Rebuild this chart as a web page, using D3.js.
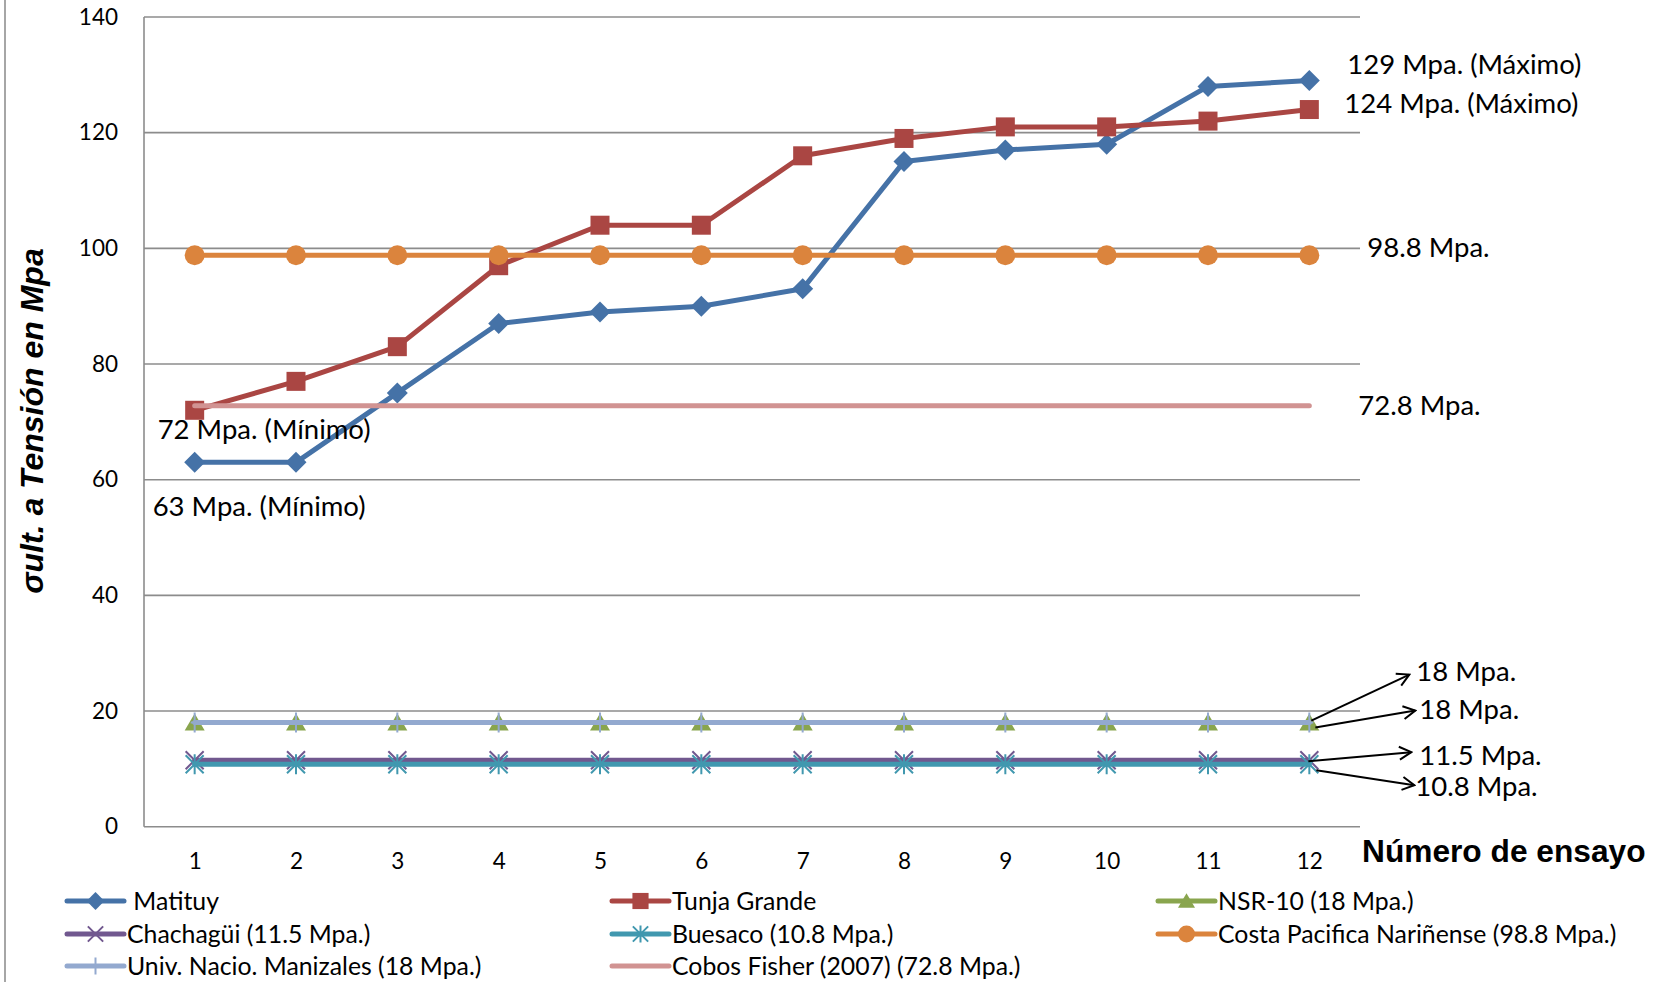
<!DOCTYPE html>
<html>
<head>
<meta charset="utf-8">
<script src="https://cdn.jsdelivr.net/npm/d3@7"></script>
<style>
  body { margin: 0; background: #fff; }
  text { font-family: Lato, "Open Sans", sans-serif; fill: #000; }
</style>
</head>
<body>
<svg id="chart"></svg>
<script>
// data
const ensayos = ["1", "2", "3", "4", "5", "6", "7", "8", "9", "10", "11", "12"];
const matituy = [63, 63, 75, 87, 89, 90, 93, 115, 117, 118, 128, 129];
const tunjaGrande = [72, 77, 83, 97, 104, 104, 116, 119, 121, 121, 122, 124];
const nsr10 = [18, 18, 18, 18, 18, 18, 18, 18, 18, 18, 18, 18];
const chachagui = [11.5, 11.5, 11.5, 11.5, 11.5, 11.5, 11.5, 11.5, 11.5, 11.5, 11.5, 11.5];
const buesaco = [10.8, 10.8, 10.8, 10.8, 10.8, 10.8, 10.8, 10.8, 10.8, 10.8, 10.8, 10.8];
const costaPacifica = [98.8, 98.8, 98.8, 98.8, 98.8, 98.8, 98.8, 98.8, 98.8, 98.8, 98.8, 98.8];
const univManizales = [18, 18, 18, 18, 18, 18, 18, 18, 18, 18, 18, 18];
const cobosFisher = [72.8, 72.8, 72.8, 72.8, 72.8, 72.8, 72.8, 72.8, 72.8, 72.8, 72.8, 72.8];
const yTicks = [0, 20, 40, 60, 80, 100, 120, 140];

const series = [
    { name: " Matituy", values: matituy, color: "#4572A7", marker: "diamond" },
    { name: "Tunja Grande", values: tunjaGrande, color: "#AA4643", marker: "square" },
    { name: "NSR-10 (18 Mpa.)", values: nsr10, color: "#89A54E", marker: "triangle" },
    { name: "Chachagüi (11.5 Mpa.)", values: chachagui, color: "#71588F", marker: "x" },
    { name: "Buesaco (10.8 Mpa.)", values: buesaco, color: "#4198AF", marker: "star" },
    { name: "Costa Pacifica Nariñense (98.8 Mpa.)", values: costaPacifica, color: "#DB843D", marker: "circle" },
    { name: "Univ. Nacio. Manizales (18 Mpa.)", values: univManizales, color: "#93A9CF", marker: "plus" },
    { name: "Cobos Fisher (2007) (72.8 Mpa.)", values: cobosFisher, color: "#D19392", marker: null }
];

// text labels next to the lines: [text, category, value, dx, dy]
const labels = [
    ["129 Mpa. (Máximo)", "12", 129, 38, -7],
    ["124 Mpa. (Máximo)", "12", 124, 35, 3],
    ["98.8 Mpa.", "12", 98.8, 58, 2],
    ["72.8 Mpa.", "12", 72.8, 49, 9],
    ["72 Mpa. (Mínimo)", "1", 72, -37, 29],
    ["63 Mpa. (Mínimo)", "1", 63, -42, 54]
];
// arrow labels at the right end of the low series
const arrowLabels = [
    { text: "18 Mpa.", value: 18, from: [2, -2], to: [100, -48], at: [107, -42] },
    { text: "18 Mpa.", value: 18, from: [6, 5], to: [106, -12], at: [110, -4] },
    { text: "11.5 Mpa.", value: 11.5, from: [-1, 1], to: [102, -8], at: [110, 5] },
    { text: "10.8 Mpa.", value: 10.8, from: [7, 6], to: [105, 21], at: [106, 32] }
];

const width = 1671, height = 982;
const plot = { left: 144, right: 1360, top: 17, bottom: 826.7 };

const svg = d3.select("#chart")
    .attr("width", width)
    .attr("height", height);

const x = d3.scalePoint()
    .domain(ensayos)
    .range([plot.left, plot.right])
    .padding(0.5);

const y = d3.scaleLinear()
    .domain([0, 140])
    .range([plot.bottom, plot.top]);

// outer frame edge on the left
svg.append("line")
    .attr("x1", 5).attr("x2", 5)
    .attr("y1", 0).attr("y2", height)
    .attr("stroke", "#a6a6a6").attr("stroke-width", 2);

// gridlines
svg.append("g")
    .selectAll("line")
    .data(yTicks.filter(d => d > 0))
    .join("line")
    .attr("x1", plot.left).attr("x2", plot.right)
    .attr("y1", d => y(d)).attr("y2", d => y(d))
    .attr("stroke", "#8c8c8c").attr("stroke-width", 1.6);

// axes
const yAxis = svg.append("g")
    .attr("transform", `translate(${plot.left},0)`)
    .call(d3.axisLeft(y).tickValues(yTicks).tickSize(0).tickPadding(26));
const xAxis = svg.append("g")
    .attr("transform", `translate(0,${plot.bottom})`)
    .call(d3.axisBottom(x).tickSize(0).tickPadding(26));

[yAxis, xAxis].forEach(function(g) {
    g.select(".domain").attr("stroke", "#8c8c8c").attr("stroke-width", 1.6);
    g.selectAll("text")
        .style("font-family", "Lato, sans-serif")
        .style("font-size", "22.5px")
        .attr("fill", "#000");
});
xAxis.select(".domain").attr("d", `M${plot.left},0H${plot.right}`);
yAxis.select(".domain").attr("d", `M0,${plot.top}V${plot.bottom}`);

// axis titles
svg.append("text")
    .attr("transform", "translate(43,421) rotate(-90)")
    .attr("text-anchor", "middle")
    .style("font-family", "'Liberation Sans', Arial, sans-serif")
    .style("font-weight", "bold")
    .style("font-style", "italic")
    .style("font-size", "32px")
    .text("σult. a Tensión en Mpa");

svg.append("text")
    .attr("x", 1362)
    .attr("y", 862)
    .style("font-family", "'Liberation Sans', Arial, sans-serif")
    .style("font-weight", "bold")
    .style("font-size", "31.7px")
    .text("Número de ensayo");

// marker shapes
function drawMarker(g, type, color, s) {
    if (type === "diamond") {
        g.append("path").attr("d", `M0,${-10.5 * s}L${10.5 * s},0L0,${10.5 * s}L${-10.5 * s},0Z`).attr("fill", color);
    } else if (type === "square") {
        g.append("rect").attr("x", -9.5 * s).attr("y", -9.5 * s)
            .attr("width", 19 * s).attr("height", 19 * s).attr("fill", color);
    } else if (type === "circle") {
        g.append("circle").attr("r", 10 * s).attr("fill", color);
    } else if (type === "triangle") {
        g.append("path").attr("d", `M0,${-9 * s}L${10 * s},${8 * s}L${-10 * s},${8 * s}Z`).attr("fill", color);
    } else if (type === "x" || type === "star") {
        g.append("path")
            .attr("d", `M${-9 * s},${-9 * s}L${9 * s},${9 * s}M${-9 * s},${9 * s}L${9 * s},${-9 * s}` +
                (type === "star" ? `M0,${-10 * s}V${10 * s}` : ""))
            .attr("stroke", color).attr("stroke-width", 2).attr("fill", "none");
    } else if (type === "plus") {
        g.append("path").attr("d", `M0,${-10 * s}V${10 * s}M${-4 * s},0H${4 * s}`)
            .attr("stroke", color).attr("stroke-width", 2).attr("fill", "none");
    }
}

const line = d3.line()
    .x((d, i) => x(ensayos[i]))
    .y(d => y(d));

series.forEach(function(s) {
    const g = svg.append("g");
    g.append("path")
        .datum(s.values)
        .attr("d", line)
        .attr("fill", "none")
        .attr("stroke", s.color)
        .attr("stroke-width", 5)
        .attr("stroke-linejoin", "round")
        .attr("stroke-linecap", "round");
    if (s.marker) {
        g.selectAll("g.pt")
            .data(s.values)
            .join("g")
            .attr("class", "pt")
            .attr("transform", (d, i) => `translate(${x(ensayos[i])},${y(d)})`)
            .each(function() { drawMarker(d3.select(this), s.marker, s.color, 1); });
    }
});

// labels
svg.append("g")
    .selectAll("text")
    .data(labels)
    .join("text")
    .attr("x", d => x(d[1]) + d[3])
    .attr("y", d => y(d[2]) + d[4])
    .style("font-size", "27.5px")
    .text(d => d[0]);

svg.append("defs").append("marker")
    .attr("id", "arrowhead")
    .attr("markerUnits", "userSpaceOnUse")
    .attr("viewBox", "-14 -8 16 16")
    .attr("markerWidth", 16).attr("markerHeight", 16)
    .attr("orient", "auto")
    .append("path")
    .attr("d", "M-12,-6.5L0,0L-12,6.5")
    .attr("fill", "none")
    .attr("stroke", "#000")
    .attr("stroke-width", 2);

const lastX = x(ensayos[ensayos.length - 1]);
const arrows = svg.append("g");
arrowLabels.forEach(function(a) {
    const cy = y(a.value);
    arrows.append("line")
        .attr("x1", lastX + a.from[0]).attr("y1", cy + a.from[1])
        .attr("x2", lastX + a.to[0]).attr("y2", cy + a.to[1])
        .attr("stroke", "#000").attr("stroke-width", 2)
        .attr("marker-end", "url(#arrowhead)");
    arrows.append("text")
        .attr("x", lastX + a.at[0]).attr("y", cy + a.at[1])
        .style("font-size", "27.5px")
        .text(a.text);
});

// legend
const legendCols = [67, 612, 1158];
const legendRows = [901, 934, 966];
const legend = svg.append("g")
    .selectAll("g")
    .data(series)
    .join("g")
    .attr("transform", (d, i) => `translate(${legendCols[i % 3]},${legendRows[Math.floor(i / 3)]})`);

legend.append("line")
    .attr("x1", 0).attr("x2", 57)
    .attr("stroke", d => d.color)
    .attr("stroke-width", 5)
    .attr("stroke-linecap", "round");
legend.each(function(d) {
    if (d.marker) {
        drawMarker(d3.select(this).append("g").attr("transform", "translate(28.5,0)"), d.marker, d.color, 0.85);
    }
});
legend.append("text")
    .attr("x", 60)
    .attr("y", 8.5)
    .style("font-size", "24.8px")
    .style("white-space", "pre")
    .text(d => d.name);
</script>
</body>
</html>
